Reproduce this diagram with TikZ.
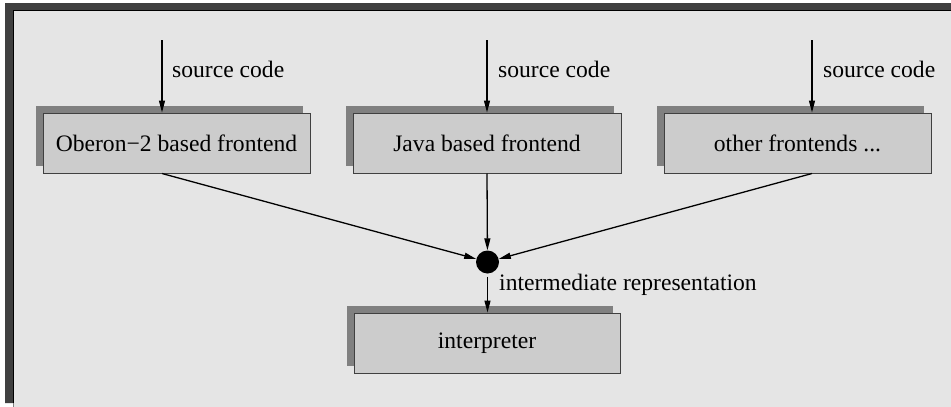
\documentclass[tikz,border=0pt]{standalone}
\usepackage{fontspec}
\setmainfont{Liberation Serif}
\usetikzlibrary{arrows.meta,shadows}

\definecolor{panelbg}{HTML}{E5E5E5}
\definecolor{boxfill}{HTML}{CCCCCC}
\definecolor{boxshadow}{HTML}{808080}
\definecolor{framedark}{HTML}{404040}

\tikzset{
  lbl/.style={font=\fontsize{23.6}{28}\selectfont, inner sep=0pt},
  stagebox/.style={lbl, draw=framedark, line width=1pt, fill=boxfill,
    minimum height=60pt, inner sep=0pt,
    drop shadow={shadow xshift=-7pt, shadow yshift=7pt, fill=boxshadow, opacity=1}},
  flow/.style={line width=1.3pt, -{Triangle[length=12pt,width=6pt]}},
  hub/.style={circle, fill=black, minimum size=23pt, inner sep=0pt}
}

\begin{document}
\begin{tikzpicture}[x=1pt,y=-1pt]
  % canvas and framed panel
  \fill[white] (0,0) rectangle (951,407);
  \useasboundingbox (0,0) rectangle (951,407);
  \fill[panelbg] (14,11) rectangle (951,407);
  \fill[framedark] (5,3) -- (951,3) -- (951,10) -- (13,10) -- (13,403) -- (5,403) -- cycle;
  \draw[black, line width=1pt] (13.5,403) -- (13.5,10.5) -- (951,10.5);
  \draw[boxshadow, line width=1pt] (13.5,403) -- (13.5,407);

  % frontends
  \node[stagebox, minimum width=267pt] (ob) at (176.5,143) {Oberon−2 based frontend};
  \node[stagebox, minimum width=268pt] (jv) at (487,143) {Java based frontend};
  \node[stagebox, minimum width=267pt] (ot) at (797.5,143) {other frontends ...};

  % interpreter
  \node[stagebox, minimum width=266pt] (ip) at (487,343) {interpreter};

  % joining point
  \node[hub] (dot) at (487.5,262) {};

  % source code inputs
  \coordinate (s1) at (162,40);
  \coordinate (s2) at (487,40);
  \coordinate (s3) at (812,40);
  \draw[flow] (s1) -- (s1 |- ob.north);
  \draw[flow] (s2) -- (s2 |- jv.north);
  \draw[flow] (s3) -- (s3 |- ot.north);
  \node[lbl, anchor=base west] (l1) at (172,77) {source code};
  \node[lbl, anchor=base west] (l2) at (498,77) {source code};
  \node[lbl, anchor=base west] (l3) at (823,77) {source code};

  % frontends into the intermediate representation
  \draw[flow] (s1 |- ob.south) -- (dot);
  \draw[flow] (s2 |- jv.south) -- (dot);
  \draw[flow] (s3 |- ot.south) -- (dot);

  % intermediate representation into interpreter
  \draw[flow, shorten <=3pt] (dot.south) -- (dot.south |- ip.north);
  \node[lbl, anchor=base west] (ir) at (499,290) {intermediate representation};
\end{tikzpicture}
\end{document}
